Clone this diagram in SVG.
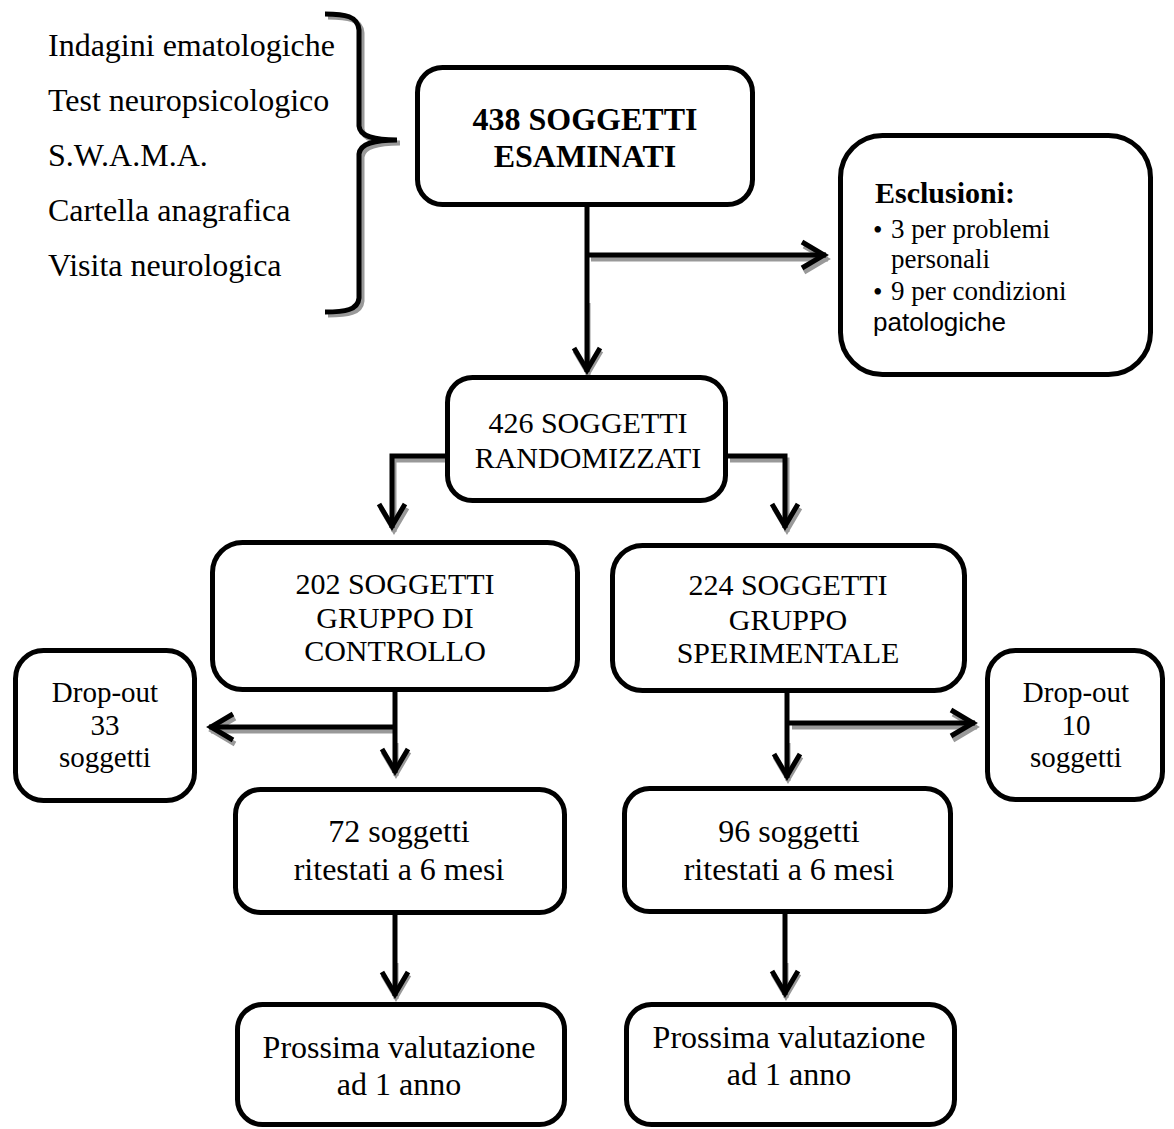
<svg xmlns="http://www.w3.org/2000/svg" width="1174" height="1129" viewBox="0 0 1174 1129">
<defs>
<style>
.box{fill:#fff;stroke:#000;stroke-width:5}
.t{font-family:"Liberation Serif","Times New Roman",serif;fill:#000;text-anchor:middle}
.l{font-family:"Liberation Serif","Times New Roman",serif;fill:#000;font-size:32px}
.e{font-family:"Liberation Serif","Times New Roman",serif;fill:#000;font-size:27px}
.c{fill:none;stroke:#000;stroke-width:5}
.s{fill:none;stroke:#999;stroke-width:5}
</style>
<marker id="ah" markerUnits="userSpaceOnUse" markerWidth="40" markerHeight="40" refX="2" refY="0" viewBox="-30 -20 40 40" orient="auto" overflow="visible">
<path d="M-22,-13 L0,0 L-22,13" fill="none" stroke="#000" stroke-width="5"/>
</marker>
<marker id="ahs" markerUnits="userSpaceOnUse" markerWidth="40" markerHeight="40" refX="2" refY="0" viewBox="-30 -20 40 40" orient="auto" overflow="visible">
<path d="M-22,-13 L0,0 L-22,13" fill="none" stroke="#999" stroke-width="5"/>
</marker>
</defs>
<rect width="1174" height="1129" fill="#fff"/>

<g id="exam-list">
<text class="l" x="48" y="56">Indagini ematologiche</text>
<text class="l" x="48" y="111">Test neuropsicologico</text>
<text class="l" x="48" y="166">S.W.A.M.A.</text>
<text class="l" x="48" y="221">Cartella anagrafica</text>
<text class="l" x="48" y="276">Visita neurologica</text>
<path class="s" transform="translate(3,3)" d="M325,14 C345,14 358,16 359,30 L359,126 C360,136 372,140 397,140 C372,140 360,144 359,154 L359,298 C358,310 345,312 325,312"/>
<path class="c" d="M325,14 C345,14 358,16 359,30 L359,126 C360,136 372,140 397,140 C372,140 360,144 359,154 L359,298 C358,310 345,312 325,312"/>
</g>

<g id="connectors">
<g transform="translate(2,4)">
<path class="s" d="M589,255 H826" marker-end="url(#ahs)"/>
<path class="s" d="M445,456 H392 V528" marker-end="url(#ahs)"/>
<path class="s" d="M728,456 H785 V528" marker-end="url(#ahs)"/>
<path class="s" d="M395,727 H209" marker-end="url(#ahs)"/>
<path class="s" d="M790,723 H975" marker-end="url(#ahs)"/>
</g>
<g transform="translate(1,3)">
<path class="s" d="M587,300 V372" marker-end="url(#ahs)"/>
<path class="s" d="M395,740 V773" marker-end="url(#ahs)"/>
<path class="s" d="M787,740 V778" marker-end="url(#ahs)"/>
<path class="s" d="M395,960 V996" marker-end="url(#ahs)"/>
<path class="s" d="M785,960 V995" marker-end="url(#ahs)"/>
</g>
<path class="c" d="M587,207 V372" marker-end="url(#ah)"/>
<path class="c" d="M587,255 H826" marker-end="url(#ah)"/>
<path class="c" d="M445,456 H392 V528" marker-end="url(#ah)"/>
<path class="c" d="M728,456 H785 V528" marker-end="url(#ah)"/>
<path class="c" d="M395,692 V773" marker-end="url(#ah)"/>
<path class="c" d="M395,727 H209" marker-end="url(#ah)"/>
<path class="c" d="M787,693 V778" marker-end="url(#ah)"/>
<path class="c" d="M787,723 H975" marker-end="url(#ah)"/>
<path class="c" d="M395,915 V996" marker-end="url(#ah)"/>
<path class="c" d="M785,914 V995" marker-end="url(#ah)"/>
</g>

<g id="node-esaminati">
<rect class="box" x="417.5" y="67.5" width="335" height="137" rx="25"/>
<text class="t" x="585" y="130" font-size="32" font-weight="bold">438 SOGGETTI</text>
<text class="t" x="585" y="167" font-size="32" font-weight="bold">ESAMINATI</text>
</g>

<g id="node-esclusioni">
<rect class="box" x="840.5" y="135.5" width="310" height="239" rx="42"/>
<text x="875" y="203" font-family="'Liberation Serif','Times New Roman',serif" font-size="30" font-weight="bold">Esclusioni:</text>
<text class="e" x="873" y="239" font-size="32">•</text>
<text class="e" x="891" y="238">3 per problemi</text>
<text class="e" x="891" y="268">personali</text>
<text class="e" x="873" y="301" font-size="32">•</text>
<text class="e" x="891" y="300">9 per condizioni</text>
<text x="873" y="331" font-family="'Liberation Sans',Arial,sans-serif" font-size="26">patologiche</text>
</g>

<g id="node-randomizzati">
<rect class="box" x="447.5" y="377.5" width="278" height="123" rx="25"/>
<text class="t" x="588" y="433" font-size="30">426 SOGGETTI</text>
<text class="t" x="588" y="468" font-size="30">RANDOMIZZATI</text>
</g>

<g id="node-controllo">
<rect class="box" x="212.5" y="542.5" width="365" height="147" rx="30"/>
<text class="t" x="395" y="594" font-size="30">202 SOGGETTI</text>
<text class="t" x="395" y="628" font-size="30">GRUPPO DI</text>
<text class="t" x="395" y="661" font-size="30">CONTROLLO</text>
</g>

<g id="node-sperimentale">
<rect class="box" x="612.5" y="545.5" width="352" height="145" rx="30"/>
<text class="t" x="788" y="595" font-size="30">224 SOGGETTI</text>
<text class="t" x="788" y="630" font-size="30">GRUPPO</text>
<text class="t" x="788" y="663" font-size="30">SPERIMENTALE</text>
</g>

<g id="node-dropout-33">
<rect class="box" x="15.5" y="650.5" width="179" height="150" rx="28"/>
<text class="t" x="105" y="702" font-size="29">Drop-out</text>
<text class="t" x="105" y="735" font-size="29">33</text>
<text class="t" x="105" y="767" font-size="29">soggetti</text>
</g>

<g id="node-dropout-10">
<rect class="box" x="987.5" y="650.5" width="175" height="149" rx="28"/>
<text class="t" x="1076" y="702" font-size="29">Drop-out</text>
<text class="t" x="1076" y="735" font-size="29">10</text>
<text class="t" x="1076" y="767" font-size="29">soggetti</text>
</g>

<g id="node-72">
<rect class="box" x="235.5" y="789.5" width="329" height="123" rx="25"/>
<text class="t" x="399" y="842" font-size="32">72 soggetti</text>
<text class="t" x="399" y="880" font-size="32">ritestati a 6 mesi</text>
</g>

<g id="node-96">
<rect class="box" x="624.5" y="788.5" width="326" height="123" rx="25"/>
<text class="t" x="789" y="842" font-size="32">96 soggetti</text>
<text class="t" x="789" y="880" font-size="32">ritestati a 6 mesi</text>
</g>

<g id="node-anno-left">
<rect class="box" x="237.5" y="1004.5" width="327" height="120" rx="25"/>
<text class="t" x="399" y="1058" font-size="32">Prossima valutazione</text>
<text class="t" x="399" y="1095" font-size="32">ad 1 anno</text>
</g>

<g id="node-anno-right">
<rect class="box" x="626.5" y="1004.5" width="328" height="120" rx="25"/>
<text class="t" x="789" y="1048" font-size="32">Prossima valutazione</text>
<text class="t" x="789" y="1085" font-size="32">ad 1 anno</text>
</g>
</svg>
